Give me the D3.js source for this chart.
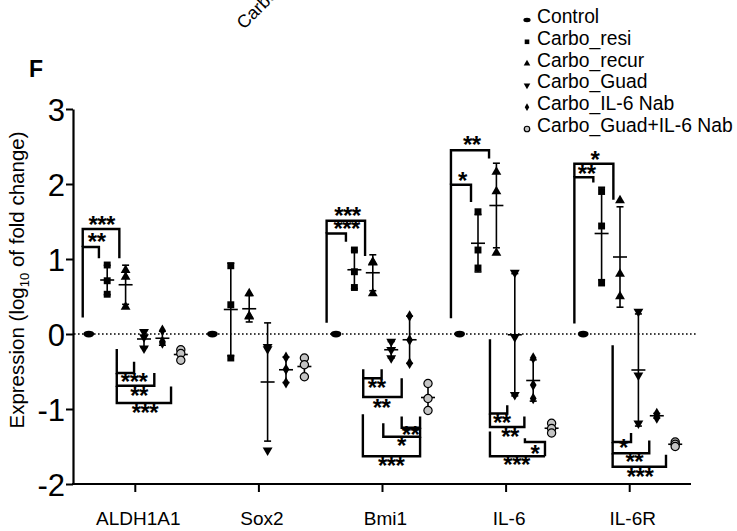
<!DOCTYPE html>
<html><head><meta charset="utf-8">
<script src="https://cdn.jsdelivr.net/npm/d3@7/dist/d3.min.js"></script>
<style>body{margin:0;background:#fff} svg{display:block} text{font-family:"Liberation Sans",Arial,Helvetica,sans-serif}</style>
</head><body><svg id="c" width="737" height="531"></svg>
<script>
// ---------- data ----------
const genes = ["ALDH1A1", "Sox2", "Bmi1", "IL-6", "IL-6R"];
const seriesNames = ["Control", "Carbo_resi", "Carbo_recur", "Carbo_Guad", "Carbo_IL-6 Nab", "Carbo_Guad+IL-6 Nab"];
const yTicks = [-2, -1, 0, 1, 2, 3];
const yTickLabels = ["-2", "-1", "0", "1", "2", "3"];

// replicate values (log10 fold change), one inner array per gene
const control      = [[0], [0], [0], [0], [0]];
const carboResi    = [[0.92, 0.71, 0.53], [0.91, 0.39, -0.32], [1.12, 0.83, 0.62], [1.63, 1.12, 0.88], [1.90, 1.44, 0.68]];
const carboRecur   = [[0.85, 0.76, 0.36], [0.54, 0.24, 0.23], [0.96, 0.95, 0.54], [2.16, 1.90, 1.08], [1.78, 0.80, 0.50]];
const carboGuad    = [[0.03, -0.04, -0.19], [-0.17, -0.20, -1.55], [-0.10, -0.21, -0.32], [0.82, -0.04, -0.81], [0.30, -0.55, -1.19]];
const carboNab     = [[0.05, -0.10, -0.12], [-0.31, -0.47, -0.65], [0.24, -0.08, -0.39], [-0.32, -0.68, -0.86], [-1.06, -1.09, -1.12]];
const carboGuadNab = [[-0.21, -0.26, -0.35], [-0.32, -0.41, -0.57], [-0.66, -0.86, -1.02], [-1.19, -1.26, -1.32], [-1.44, -1.47, -1.50]];

// significance brackets: polyline in [series slot, value] + label at [slot, value]
const bracketGenes  = ["ALDH1A1", "ALDH1A1", "ALDH1A1", "ALDH1A1", "ALDH1A1",
                       "Bmi1", "Bmi1", "Bmi1", "Bmi1", "Bmi1", "Bmi1", "Bmi1",
                       "IL-6", "IL-6", "IL-6", "IL-6", "IL-6", "IL-6",
                       "IL-6R", "IL-6R", "IL-6R", "IL-6R", "IL-6R"];
const bracketLabels = ["**", "***", "***", "**", "***",
                       "***", "***", "**", "**", "**", "*", "***",
                       "*", "**", "**", "**", "*", "***",
                       "**", "*", "*", "**", "***"];
const bracketPaths = [
  [[-0.33, 0.22], [-0.33, 1.16], [0.55, 1.16], [0.55, 1.01]],
  [[-0.33, 1.16], [-0.33, 1.40], [1.66, 1.40], [1.66, 1.01]],
  [[1.52, -0.20], [1.52, -0.52], [2.46, -0.52], [2.46, -0.37]],
  [[1.52, -0.52], [1.52, -0.69], [3.56, -0.69], [3.56, -0.52]],
  [[1.52, -0.69], [1.52, -0.92], [4.47, -0.92], [4.47, -0.70]],
  [[-0.51, 0.15], [-0.51, 1.34], [0.54, 1.34], [0.54, 1.23]],
  [[-0.51, 1.34], [-0.51, 1.51], [1.58, 1.51], [1.58, 1.04]],
  [[1.48, -0.47], [1.48, -0.59], [2.48, -0.59], [2.48, -0.47]],
  [[1.48, -0.59], [1.48, -0.84], [3.57, -0.84], [3.57, -0.59]],
  [[3.57, -1.10], [3.57, -1.25], [4.57, -1.25], [4.57, -1.10]],
  [[2.57, -1.19], [2.57, -1.37], [4.57, -1.37], [4.57, -1.25]],
  [[1.46, -1.07], [1.46, -1.63], [4.57, -1.63], [4.57, -1.37]],
  [[-0.47, 0.21], [-0.47, 1.99], [0.62, 1.99], [0.62, 1.76]],
  [[-0.47, 1.99], [-0.47, 2.45], [1.60, 2.45], [1.60, 2.34]],
  [[1.65, -0.07], [1.65, -1.06], [2.59, -1.06], [2.59, -0.95]],
  [[1.65, -1.06], [1.65, -1.24], [3.52, -1.24], [3.52, -1.10]],
  [[3.55, -1.39], [3.55, -1.44], [4.64, -1.44], [4.64, -1.63]],
  [[1.65, -1.30], [1.65, -1.63], [4.64, -1.63]],
  [[-0.48, 0.14], [-0.48, 2.09], [0.55, 2.09], [0.55, 2.02]],
  [[-0.48, 2.09], [-0.48, 2.27], [1.64, 2.27], [1.64, 1.79]],
  [[1.60, -0.15], [1.60, -1.44], [2.60, -1.44], [2.60, -1.32]],
  [[1.60, -1.44], [1.60, -1.59], [3.59, -1.59], [3.59, -1.42]],
  [[1.60, -1.59], [1.60, -1.77], [4.50, -1.77], [4.50, -1.61]]
];
const bracketLabelPos = [
  [0.43, 1.27], [0.70, 1.50], [2.46, -0.60], [2.73, -0.78], [3.05, -1.01],
  [0.58, 1.44], [0.62, 1.61], [2.21, -0.68], [2.48, -0.95], [4.05, -1.30], [3.55, -1.45], [3.00, -1.72],
  [0.15, 2.08], [0.66, 2.56], [2.29, -1.14], [2.74, -1.33], [4.10, -1.56], [3.10, -1.70],
  [0.19, 2.18], [0.64, 2.36], [2.18, -1.48], [2.78, -1.67], [3.09, -1.86]
];

// ---------- layout ----------
const svg = d3.select("#c");
const x = d3.scalePoint().domain(genes).range([73, 691]).padding(0.5);
const slot = d3.scaleLinear().domain([0, 5]).range([-46, 46]);
const y = d3.scaleLinear().domain([-2, 3]).range([484, 109]);
const X = (g, s) => x(g) + slot(s);

const seriesData = [control, carboResi, carboRecur, carboGuad, carboNab, carboGuadNab];

// zero dotted line
svg.append("line").attr("x1", 74).attr("x2", 697).attr("y1", y(0)).attr("y2", y(0))
  .attr("stroke", "#000").attr("stroke-width", 1.3).attr("stroke-dasharray", "1.6,2.4");

// y axis
const yAxis = svg.append("g").attr("transform", "translate(73,0)")
  .call(d3.axisLeft(y).tickValues(yTicks).tickFormat((d, i) => yTickLabels[i]).tickSize(7).tickSizeOuter(0).tickPadding(1));
yAxis.select(".domain").attr("stroke-width", 2.2);
yAxis.selectAll(".tick line").attr("stroke-width", 2);
yAxis.selectAll(".tick text").attr("font-size", 31).attr("font-family", "Liberation Sans, Arial, sans-serif")
  .attr("dy", "0.36em");

// x axis
const xAxis = svg.append("g").attr("transform", "translate(0,484)")
  .call(d3.axisBottom(x).tickSize(8).tickSizeOuter(0).tickPadding(20));
xAxis.select(".domain").attr("stroke-width", 2.2).attr("d", "M72,0H691");
xAxis.selectAll(".tick line").attr("stroke-width", 2);
xAxis.selectAll(".tick text").attr("font-size", 19).attr("font-family", "Liberation Sans, Arial, sans-serif")
  .attr("dx", 3);

// y label
svg.append("text").attr("transform", "translate(24,280) rotate(-90)").attr("text-anchor", "middle")
  .attr("font-size", 20.5)
  .call(t => {
    t.append("tspan").text("Expression (log");
    t.append("tspan").attr("font-size", 13).attr("dy", 5).text("10");
    t.append("tspan").attr("dy", -5).text(" of fold change)");
  });

// panel letter
svg.append("text").attr("x", 29).attr("y", 77).attr("font-size", 23).attr("font-weight", "bold").text("F");

// stray rotated label from above
svg.append("text").attr("transform", "translate(244,30) rotate(-45)").attr("font-size", 18).text("Carbo_resi");

// symbols
function drawSymbol(sel, si, size) {
  if (si === 0) {
    sel.append("ellipse").attr("rx", size * 0.72).attr("ry", size * 0.45).attr("fill", "#000");
  } else if (si === 5) {
    sel.append("circle").attr("r", size * 0.55).attr("fill", "#c4c4c4").attr("stroke", "#000").attr("stroke-width", 1.2);
  } else {
    const types = [null, d3.symbolSquare, d3.symbolTriangle, d3.symbolTriangle, d3.symbolDiamond];
    const areas = [0, 0.85, 0.75, 0.75, 0.7];
    sel.append("path").attr("d", d3.symbol().type(types[si]).size(size * size * areas[si])())
      .attr("transform", si === 3 ? "rotate(180)" : null).attr("fill", "#000");
  }
}

// data marks
const plot = svg.append("g");
seriesNames.forEach((name, si) => {
  genes.forEach((g, gi) => {
    const vals = seriesData[si][gi];
    const cx = X(g, si);
    const grp = plot.append("g");
    if (vals.length > 1) {
      const m = d3.mean(vals), sd = d3.deviation(vals);
      grp.append("line").attr("x1", cx).attr("x2", cx).attr("y1", y(m + sd)).attr("y2", y(m - sd))
        .attr("stroke", "#000").attr("stroke-width", 1.6);
      [m + sd, m - sd].forEach(v => grp.append("line").attr("x1", cx - 3.5).attr("x2", cx + 3.5)
        .attr("y1", y(v)).attr("y2", y(v)).attr("stroke", "#000").attr("stroke-width", 1.6));
      grp.append("line").attr("x1", cx - 7).attr("x2", cx + 7).attr("y1", y(m)).attr("y2", y(m))
        .attr("stroke", "#000").attr("stroke-width", 1.6);
    }
    vals.forEach(v => {
      drawSymbol(grp.append("g").attr("transform", `translate(${cx},${y(v)})`), si, 7.5);
    });
  });
});

// brackets
const br = svg.append("g");
bracketPaths.forEach((pts, i) => {
  const g = bracketGenes[i];
  br.append("path").attr("d", d3.line().x(p => X(g, p[0])).y(p => y(p[1]))(pts))
    .attr("fill", "none").attr("stroke", "#000").attr("stroke-width", 2.4).attr("stroke-linejoin", "miter");
  const lp = bracketLabelPos[i];
  br.append("text").attr("x", X(g, lp[0])).attr("y", y(lp[1]) + 11).attr("text-anchor", "middle")
    .attr("font-size", 24).attr("font-weight", "bold").attr("letter-spacing", -0.5).text(bracketLabels[i]);
});

// legend
const lg = svg.append("g");
seriesNames.forEach((name, si) => {
  const ly = 23 + si * 21.8;
  const s = lg.append("g").attr("transform", `translate(527,${ly - 3})`);
  drawSymbol(s, si, 5);
  lg.append("text").attr("x", 537).attr("y", ly).attr("font-size", 19.3).text(name);
});
</script></body></html>
